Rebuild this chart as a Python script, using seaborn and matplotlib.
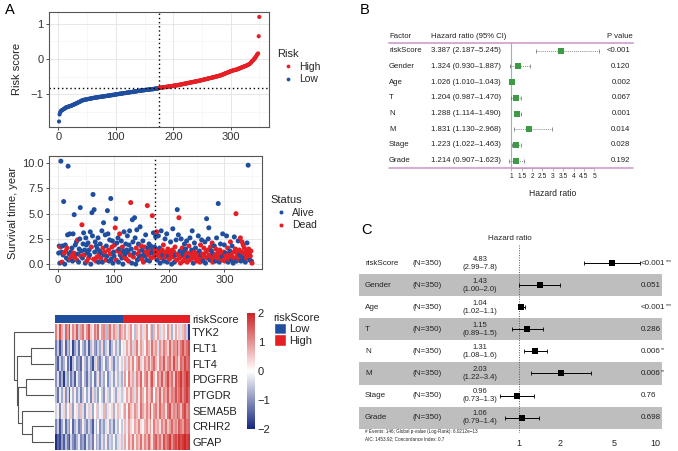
import matplotlib.pyplot as plt
import numpy as np
import pandas as pd
import seaborn as sns
from matplotlib.colors import LinearSegmentedColormap, ListedColormap
from matplotlib.patches import Patch
from matplotlib.ticker import FormatStrFormatter, MultipleLocator
from matplotlib.transforms import blended_transform_factory

# ---------------- panel A: risk score curve ----------------
risk_score = [
    -1.78, -1.58, -1.52, -1.49, -1.47,
    -1.46, -1.45, -1.44, -1.43, -1.42, -1.41, -1.39,
    -1.38, -1.38, -1.37, -1.37, -1.36, -1.35, -1.35, -1.34, -1.34, -1.33, -1.33, -1.32,
    -1.31, -1.30, -1.30, -1.29, -1.28, -1.27, -1.27, -1.26, -1.25, -1.24, -1.23, -1.23,
    -1.22, -1.21, -1.20, -1.19, -1.18,
    -1.18, -1.17, -1.17, -1.16, -1.16, -1.16, -1.15, -1.15, -1.15, -1.14, -1.14, -1.14,
    -1.13, -1.13, -1.13, -1.12, -1.12, -1.12, -1.11, -1.11, -1.11, -1.10, -1.10,
    -1.10, -1.10, -1.09, -1.09, -1.09, -1.09, -1.08, -1.08, -1.08, -1.08, -1.07, -1.07,
    -1.07, -1.07, -1.06, -1.06, -1.06, -1.06, -1.05, -1.05, -1.05, -1.05, -1.04, -1.04,
    -1.04, -1.04, -1.03, -1.03, -1.03, -1.03, -1.02, -1.02, -1.02, -1.02, -1.01, -1.01,
    -1.01, -1.00, -1.00, -1.00, -1.00, -0.99, -0.99, -0.99, -0.99, -0.98, -0.98, -0.98,
    -0.98, -0.97, -0.97, -0.97, -0.97, -0.96, -0.96, -0.96, -0.96, -0.95, -0.95, -0.95,
    -0.95, -0.94, -0.94, -0.94, -0.94, -0.93, -0.93, -0.93, -0.93, -0.92, -0.92, -0.92,
    -0.92, -0.91,
    -0.91, -0.91, -0.91, -0.90, -0.90, -0.90, -0.90, -0.89, -0.89, -0.89, -0.89, -0.89,
    -0.88, -0.88, -0.88, -0.88, -0.88, -0.87, -0.87, -0.87, -0.87, -0.87, -0.86, -0.86,
    -0.86, -0.86, -0.86, -0.85, -0.85, -0.85, -0.85, -0.84, -0.84, -0.84, -0.84, -0.83,
    -0.83,
    -0.82, -0.82, -0.82, -0.82, -0.81, -0.81, -0.81, -0.81, -0.80, -0.80, -0.80, -0.80,
    -0.79, -0.79, -0.79, -0.79, -0.78, -0.78, -0.78, -0.78, -0.77, -0.77, -0.77, -0.77,
    -0.76, -0.76, -0.76, -0.76, -0.75, -0.75, -0.75, -0.75,
    -0.74, -0.74, -0.74, -0.73, -0.73, -0.73, -0.72, -0.72, -0.72, -0.71, -0.71, -0.71,
    -0.70, -0.70, -0.70, -0.69, -0.69, -0.69, -0.68, -0.68, -0.68, -0.67, -0.67, -0.67,
    -0.66, -0.66, -0.66, -0.65, -0.65, -0.65, -0.64, -0.64, -0.64, -0.63, -0.63, -0.63,
    -0.62, -0.62, -0.62, -0.61, -0.61,
    -0.60, -0.60, -0.60, -0.59, -0.59, -0.58, -0.58, -0.58, -0.57, -0.57, -0.56, -0.56,
    -0.56, -0.55, -0.55, -0.54, -0.54, -0.54, -0.53, -0.53, -0.52, -0.52, -0.52, -0.51,
    -0.51, -0.50, -0.50, -0.50, -0.49, -0.49, -0.48, -0.48, -0.47, -0.47,
    -0.46, -0.46, -0.45, -0.44, -0.44, -0.43, -0.42, -0.42, -0.41, -0.40, -0.40, -0.39,
    -0.38, -0.38, -0.37, -0.36, -0.36, -0.35, -0.34, -0.34, -0.33, -0.33, -0.32, -0.32,
    -0.31, -0.31, -0.31, -0.30, -0.30,
    -0.29, -0.28, -0.28, -0.27, -0.26, -0.26, -0.25, -0.24, -0.24, -0.23, -0.22, -0.22,
    -0.21, -0.20, -0.20, -0.19, -0.18, -0.18, -0.17, -0.16, -0.15, -0.14, -0.13,
    -0.11, -0.09, -0.07, -0.05, -0.04, -0.02, 0.00, 0.02, 0.04, 0.06, 0.09, 0.12, 0.14, 0.16,
    0.65, 1.20,
]

# ---------------- panel A: survival scatter ----------------
surv_time = [
    1.1, 1.8, 0.1, 1.7, 10.2, 1.2, 0.2, 1.8, 0.9, 6.2, 1.1, 0.0, 1.9, 1.3, 0.6, 1.6, 2.9, 9.7, 0.4, 1.0, 3.0, 0.5, 1.2, 0.8, 1.6,
    0.3, 3.0, 1.1, 4.9, 0.7, 1.9, 1.0, 2.2, 0.4, 2.4, 1.0, 0.2, 1.5, 2.5, 5.6, 0.8, 1.3, 3.9, 0.6, 2.0, 3.1, 0.9, 1.4, 0.1, 2.6,
    1.9, 0.3, 1.1, 2.1, 0.6, 1.4, 0.9, 3.2, 0.0, 1.7, 5.1, 2.8, 6.9, 0.5, 5.4, 1.2, 2.2, 0.3, 1.8, 0.7, 1.5, 2.6, 0.2, 1.0, 1.3,
    2.0, 0.6, 1.1, 3.3, 0.2, 1.6, 4.1, 0.9, 1.2, 2.9, 0.4, 1.8, 0.8, 5.3, 3.0, 1.4, 0.3, 2.4, 1.0, 6.5, 0.5, 1.7, 2.3, 0.1, 1.2,
    0.8, 1.9, 3.6, 4.5, 0.4, 2.1, 1.3, 2.6, 0.2, 1.5, 3.0, 0.9, 1.1, 2.3, 0.6, 1.7, 0.0, 1.3, 3.2, 0.7, 1.0, 2.0, 0.5, 1.4, 2.8,
    1.2, 0.3, 1.9, 3.3, 0.9, 6.1, 1.5, 0.1, 4.4, 2.2, 0.7, 1.1, 4.6, 2.6, 0.0, 1.6, 3.4, 0.4, 1.0, 2.0, 0.6, 1.3, 3.7, 0.8, 1.8,
    0.5, 1.4, 2.3, 0.2, 1.0, 1.7, 0.8, 2.9, 1.2, 0.4, 5.8, 1.6, 0.9, 2.0, 0.3, 1.3, 1.8, 0.6, 1.1, 4.8, 1.5, 3.1, 0.7, 1.7, 1.4,
    2.7, 1.0, 3.2, 0.4, 1.3, 2.8, 0.8, 1.6, 0.1, 1.1, 3.3, 0.6, 1.4, 0.9, 1.9, 0.3, 1.2, 2.5, 0.7, 1.0, 3.0, 0.2, 1.5, 0.8, 1.3,
    0.5, 1.1, 2.2, 0.9, 0.0, 1.4, 3.5, 0.7, 1.2, 0.2, 1.7, 0.9, 2.4, 0.4, 5.4, 1.0, 2.9, 4.6, 0.6, 1.3, 0.1, 2.5, 0.8, 1.6, 1.0,
    0.3, 1.2, 2.0, 0.6, 1.5, 0.9, 2.3, 0.2, 1.1, 0.7, 1.8, 0.4, 2.6, 1.0, 0.5, 1.4, 3.3, 0.8, 0.1, 1.2, 2.1, 0.6, 1.6, 0.9, 0.3,
    1.1, 0.4, 2.8, 0.7, 1.3, 0.2, 1.9, 0.9, 2.4, 0.5, 1.0, 0.3, 1.6, 0.8, 2.2, 0.1, 1.2, 4.5, 0.6, 1.4, 2.5, 3.6, 0.9, 0.4, 1.7,
    0.7, 1.3, 2.1, 0.2, 1.0, 0.5, 1.8, 0.9, 0.3, 1.5, 2.6, 0.6, 1.1, 6.0, 0.8, 0.2, 1.4, 2.0, 0.5, 1.0, 0.7, 3.0, 0.4, 1.2, 1.9,
    0.3, 1.1, 0.8, 2.8, 0.6, 1.6, 0.2, 1.0, 0.5, 1.3, 2.2, 0.9, 0.4, 1.8, 0.7, 0.1, 1.2, 2.7, 0.6, 1.5, 5.0, 0.3, 1.1, 0.8, 2.3,
    0.5, 1.4, 0.9, 2.6, 0.3, 1.2, 2.2, 0.7, 1.9, 0.4, 1.6, 1.0, 0.2, 1.3, 0.6, 2.1, 0.8, 9.8, 1.5, 1.1, 0.4, 0.8, 1.3, 0.3, 0.1,
]
surv_status = """
A A A D A A D A A A D A A D A D A A A A A D A D A
A A D A D A D A D D A A A A A D A D A A A D A A A
A D A A D A A A A D A A A D A A A D A D A A A D A
A D A A A D A A D A D A A A A D A A D A A D A A A
A D D A D A D A A A D A D A A D A A A D A A D A A
A D A A D D A A A A D A A A A D A A D A A D A A D
D A A D A D A A D A D A D A A D A D A D A A D A D
A D D A D A D A A D A D D A D A D A D D A A D A D
D D A D A D A D D A D A A D A D A D D A D A D D A
D A A D A D A D D A D D A D D A A D A D A D A D D
D D A D A D D A A D D A D D A A D A D D A A D A D
D A D D A D A D A D A D D A D A D A D D A A D D A
D A D A D D A D D A D D A A D A D A D D D A D D A
D D A D A D D A D A D D A D D A D A D D A D D A D
""".split()

# ---------------- panel A: expression heatmap ----------------
genes = ["TYK2", "FLT1", "FLT4", "PDGFRB", "PTGDR", "SEMA5B", "CRHR2", "GFAP"]
hm_groups = ["Low"] * 35 + ["High"] * 35
tyk2 = [1.2, 0.4, 1.6, 0.8, -0.3, 1.4, 0.9, 1.7, 0.2, 1.1, 0.6, 1.5, -0.5, 0.9, 1.3, 0.3, 1.0, 1.6,
        0.5, -0.2, 1.2, 0.7, 1.4, 0.1, 0.9, 1.1, -0.6, 0.8, 1.3, 0.4, 1.0, 0.6, -0.4, 1.2, 0.7,
        0.3, 0.9, -0.2, 0.5, 1.0, 0.1, -0.6, 0.6, 0.2, 0.8, -0.3, 0.4, 1.1, 0.0, 0.5, -0.8, 0.7,
        0.2, 0.9, -0.4, 0.3, 0.6, -0.1, 1.0, 0.4, -0.7, 0.2, 0.8, 0.0, 0.5, -0.3, 0.6, 0.9, -0.5, -1.9]
flt1 = [-1.2, -0.5, -1.6, -0.8, 0.2, -1.4, -0.6, -1.0, -0.2, -1.7, -0.9, -0.4, -1.3, 0.1, -0.7, -1.1,
        -0.3, -1.5, -0.6, 0.3, -0.9, -1.2, -0.4, -0.8, 0.4, -1.0, -0.5, -0.2, -1.3, -0.6, 0.2, -0.7,
        -0.3, -0.9, 0.1,
        0.4, -0.2, 0.8, 0.3, 1.0, -0.4, 0.6, 1.2, 0.2, 0.9, 0.5, -0.1, 1.1, 0.7, 0.3, 1.3, 0.6, 0.9,
        -0.3, 1.0, 0.5, 1.2, 0.8, 0.4, 1.4, 0.6, 1.1, 0.9, 1.5, 0.7, 1.2, 1.6, 1.0, 1.3, 1.7]
flt4 = [-0.9, -1.5, -0.4, -1.1, -0.7, 0.1, -1.3, -0.5, -1.8, -0.6, -0.2, -1.0, -0.8, -1.4, 0.2, -0.6,
        -1.1, -0.3, -0.9, -1.6, -0.4, 0.3, -0.8, -1.2, -0.5, -0.1, -1.0, -0.7, 0.2, -0.5, -1.1, -0.3,
        -0.6, 0.1, -0.4,
        0.2, 0.7, -0.3, 0.9, 0.4, 1.1, 0.1, 0.8, 1.3, 0.5, -0.2, 1.0, 0.6, 1.2, 0.3, 0.9, 1.4, 0.7,
        0.2, 1.1, 0.8, 1.5, 0.5, 1.0, 1.3, 0.6, 1.6, 0.9, 1.2, 0.4, 1.4, 1.1, 1.7, 1.3, 1.5]
pdgfrb = [-1.0, -0.3, -1.4, -0.7, -1.8, -0.5, -0.9, 0.2, -1.2, -0.6, -1.5, -0.2, -0.8, -1.1, 0.1, -0.7,
          -1.3, -0.4, -0.9, -0.1, -1.2, -0.6, 0.3, -1.0, -0.4, -0.8, 0.0, -1.1, -0.5, -0.2, -0.9, 0.2,
          -0.6, -0.3, -0.7,
          0.3, 0.9, 0.0, 1.2, 0.5, 0.8, -0.3, 1.1, 0.6, 1.4, 0.2, 0.9, 1.3, 0.4, 1.0, 1.6, 0.7, 0.1,
          1.2, 0.8, 1.5, 0.6, 1.1, 1.7, 0.9, 1.3, 0.5, 1.6, 1.0, 1.4, 1.8, 1.2, 1.5, 1.9, 1.6]
ptgdr = [-0.6, -1.3, -0.2, -0.8, 0.3, -1.0, -0.4, -1.5, -0.1, -0.7, 0.2, -0.9, -0.3, -1.2, -0.5, 0.1,
         -0.8, -0.2, -1.1, 0.4, -0.6, -0.3, -0.9, 0.0, -0.5, -1.0, 0.2, -0.4, -0.7, 0.1, -0.3, -0.8,
         0.3, -0.2, -0.5,
         0.4, -0.1, 0.8, 0.3, 1.0, 0.6, -0.3, 0.9, 0.2, 1.2, 0.7, 0.1, 1.1, 0.5, 0.8, 1.3, 0.0, 0.9,
         0.6, 1.4, 0.4, 1.1, 0.8, 1.5, 0.7, 1.2, 1.0, 1.6, 0.9, 1.3, 1.7, 1.1, 1.5, 1.8, 1.4]
sema5b = [-0.4, 0.2, -1.1, -0.2, 0.4, -0.7, 0.1, -0.5, 0.5, -0.9, -0.1, 0.3, -0.6, 0.6, -0.3, -1.0,
          0.2, -0.4, 0.4, -0.8, 0.0, 0.5, -0.5, 0.1, -0.2, 0.7, -0.6, 0.3, -0.1, 0.4, -0.7, 0.2,
          0.6, -0.3, 0.1,
          0.5, 0.9, 0.1, 1.2, 0.6, 0.3, 1.0, 0.7, -0.2, 1.3, 0.8, 0.4, 1.1, 0.6, 1.5, 0.2, 0.9, 1.2,
          0.5, 1.4, 0.8, 1.0, 0.3, 1.3, 1.6, 0.7, 1.1, 0.9, 1.5, 1.2, 0.6, 1.4, 1.7, 1.0, 1.3]
crhr2 = [-1.1, -0.5, -1.6, -0.8, -0.2, -1.3, -0.6, -1.0, 0.1, -1.4, -0.7, -0.3, -1.2, -0.9, 0.2, -0.6,
         -1.1, -0.4, -0.8, -1.5, -0.2, -0.7, 0.1, -1.0, -0.5, -0.9, -0.3, 0.2, -0.8, -0.4, -1.1, -0.2,
         -0.6, 0.0, -0.5,
         0.2, 0.6, -0.2, 0.9, 0.4, 0.1, 0.8, 0.5, 1.1, 0.3, -0.1, 0.7, 1.0, 0.4, 0.9, 0.2, 1.2, 0.6,
         0.8, 0.3, 1.1, 0.7, 1.3, 0.5, 0.9, 1.4, 0.8, 1.1, 0.6, 1.5, 1.2, 0.9, 1.6, 1.3, 1.4]
gfap = [-1.9, -1.4, -1.7, -0.9, -1.5, -0.6, -1.2, -1.6, -0.4, -1.0, -1.3, -0.7, -0.2, -1.1, -0.8, -1.4,
        -0.3, -0.9, -0.6, -1.2, 0.1, -0.8, -0.5, -1.0, -0.3, -0.7, 0.2, -0.9, -0.4, -0.6, -0.1, -0.8,
        -0.3, 0.3, -0.5,
        0.3, 0.8, 0.1, 1.0, 0.5, 1.2, 0.2, 0.9, 0.6, 1.3, 0.4, 1.1, 0.7, 1.4, 0.8, 0.3, 1.2, 1.5,
        0.9, 1.3, 0.6, 1.6, 1.1, 1.4, 1.8, 1.0, 1.5, 1.7, 1.3, 1.9, 1.6, 1.8, 2.0, 1.7, 1.9]
# row clustering: (child a, child b, height); leaves 0-7 follow `genes`
gene_merges = [(6, 7, 0.55), (1, 2, 0.58), (3, 4, 0.70), (5, 8, 0.80),
               (10, 11, 0.91), (9, 12, 0.92), (0, 13, 1.00)]

# ---------------- panel B: univariate table ----------------
factors = ["riskScore", "Gender", "Age", "T", "N", "M", "Stage", "Grade"]
b_hr = [3.387, 1.324, 1.026, 1.204, 1.288, 1.831, 1.223, 1.214]
b_low = [2.187, 0.930, 1.010, 0.987, 1.114, 1.130, 1.022, 0.907]
b_high = [5.245, 1.887, 1.043, 1.470, 1.490, 2.968, 1.463, 1.623]
b_pval = ["<0.001", "0.120", "0.002", "0.067", "0.001", "0.014", "0.028", "0.192"]
b_ticks = [1, 1.5, 2, 2.5, 3, 3.5, 4, 4.5, 5]

# ---------------- panel C: multivariate forest ----------------
c_n = [350, 350, 350, 350, 350, 350, 350, 350]
c_hr = [4.83, 1.43, 1.04, 1.15, 1.31, 2.03, 0.96, 1.06]
c_low = [2.99, 1.00, 1.02, 0.89, 1.08, 1.22, 0.73, 0.79]
c_high = [7.8, 2.0, 1.1, 1.5, 1.6, 3.4, 1.3, 1.4]
c_pval = ["<0.001", "0.051", "<0.001", "0.286", "0.006", "0.006", "0.76", "0.698"]
c_stars = ["***", "", "***", "", "**", "**", "", ""]
c_ticks = [1, 2, 5, 10]
c_note = ["# Events: 146; Global p-value (Log-Rank): 6.0212e\u221213",
          "AIC: 1453.92; Concordance Index: 0.7"]

BLUE = "#1F4E9E"
RED = "#E41F26"
TXT = "#222222"
W, H = 678, 451

sns.set_theme(style="whitegrid")
plt.rcParams["font.family"] = ["Liberation Sans", "DejaVu Sans"]
plt.rcParams["axes.unicode_minus"] = True


def rect(x0, y0, x1, y1):
    return [x0 / W, 1 - y1 / H, (x1 - x0) / W, (y1 - y0) / H]


def gg_axes(ax):
    ax.set_facecolor("white")
    for sp in ax.spines.values():
        sp.set_visible(True)
        sp.set_color("#555555")
        sp.set_linewidth(0.8)
    ax.grid(True, which="major", color="#E3E3E3", lw=0.6)
    ax.grid(True, which="minor", color="#F1F1F1", lw=0.4)
    ax.tick_params(which="major", length=2.5, width=0.6, color="#333333",
                   labelsize=8, labelcolor="#333333", pad=1.5, bottom=True, left=True)
    ax.tick_params(which="minor", length=0)
    ax.set_axisbelow(True)


fig = plt.figure(figsize=(W / 100, H / 100), dpi=100)

# ---- A1: risk score ----
n = len(risk_score)
cut = np.median(risk_score)
risk_df = pd.DataFrame({"idx": np.arange(1, n + 1), "score": risk_score})
risk_df["Risk"] = np.where(risk_df["score"] > cut, "High", "Low")

ax1 = fig.add_axes(rect(49, 11.7, 269.3, 126.7))
sns.scatterplot(data=risk_df, x="idx", y="score", hue="Risk", hue_order=["High", "Low"],
                palette={"High": RED, "Low": BLUE}, s=9, linewidth=0, ax=ax1)
ax1.axvline(n / 2, color="black", ls=(0, (1, 2)), lw=1)
ax1.axhline(cut, color="black", ls=(0, (1, 2)), lw=1)
pad = 0.05 * (n - 1)
ax1.set_xlim(1 - pad, n + pad)
span = max(risk_score) - min(risk_score)
ax1.set_ylim(min(risk_score) - 0.05 * span, max(risk_score) + 0.05 * span)
ax1.xaxis.set_major_locator(MultipleLocator(100))
ax1.xaxis.set_minor_locator(MultipleLocator(50))
ax1.yaxis.set_major_locator(MultipleLocator(1))
ax1.yaxis.set_minor_locator(MultipleLocator(0.5))
gg_axes(ax1)
ax1.set_xlabel("")
ax1.set_ylabel("Risk score", fontsize=8, color=TXT, labelpad=6)
sns.move_legend(ax1, "upper left", bbox_to_anchor=(1.012, 0.72), frameon=False,
                title="Risk", fontsize=7.5, title_fontsize=8, handletextpad=0.1,
                labelspacing=0.25, borderpad=0, alignment="left", markerscale=0.9)

# ---- A2: survival ----
surv_df = pd.DataFrame({"idx": np.arange(1, len(surv_time) + 1), "time": surv_time,
                        "Status": ["Alive" if s == "A" else "Dead" for s in surv_status]})
ax2 = fig.add_axes(rect(49, 156, 261.7, 269.3))
sns.scatterplot(data=surv_df, x="idx", y="time", hue="Status", hue_order=["Alive", "Dead"],
                palette={"Alive": BLUE, "Dead": RED}, s=13, linewidth=0, ax=ax2)
ax2.axvline(n / 2, color="black", ls=(0, (1, 2)), lw=1)
ax2.set_xlim(1 - pad, n + pad)
tspan = max(surv_time) - min(surv_time)
ax2.set_ylim(min(surv_time) - 0.05 * tspan, max(surv_time) + 0.05 * tspan)
ax2.xaxis.set_major_locator(MultipleLocator(100))
ax2.xaxis.set_minor_locator(MultipleLocator(50))
ax2.yaxis.set_major_locator(MultipleLocator(2.5))
ax2.yaxis.set_minor_locator(MultipleLocator(1.25))
ax2.yaxis.set_major_formatter(FormatStrFormatter("%.1f"))
gg_axes(ax2)
ax2.set_xlabel("")
ax2.set_ylabel("Survival time, year", fontsize=8, color=TXT, labelpad=3)
sns.move_legend(ax2, "upper left", bbox_to_anchor=(1.015, 0.7), frameon=False,
                title="Status", fontsize=7.5, title_fontsize=8, handletextpad=0.1,
                labelspacing=0.25, borderpad=0, alignment="left", markerscale=0.8)

# ---- A3: heatmap ----
expr_df = pd.DataFrame([tyk2, flt1, flt4, pdgfrb, ptgdr, sema5b, crhr2, gfap], index=genes)
heat_cmap = LinearSegmentedColormap.from_list("pheat", ["#15277F", "white", "#CD2626"])

ax_ann = fig.add_axes(rect(55, 315, 190, 322.6))
grp = np.array([[0 if g == "Low" else 1 for g in hm_groups]])
sns.heatmap(grp, cmap=ListedColormap([BLUE, RED]), cbar=False, ax=ax_ann,
            xticklabels=False, yticklabels=["riskScore"])
ax_ann.yaxis.tick_right()
ax_ann.tick_params(axis="y", length=0, pad=1.5, labelsize=8, labelrotation=0, labelcolor=TXT)

ax_hm = fig.add_axes(rect(55, 324.3, 190, 450))
ax_cb = fig.add_axes(rect(247.3, 313.3, 255, 429))
sns.heatmap(expr_df, cmap=heat_cmap, vmin=-2, vmax=2, ax=ax_hm, cbar_ax=ax_cb,
            xticklabels=False, yticklabels=genes, cbar_kws={"ticks": [-2, -1, 0, 1, 2]})
ax_hm.yaxis.tick_right()
ax_hm.tick_params(axis="y", length=0, pad=1.5, labelsize=8, labelrotation=0, labelcolor=TXT)
ax_cb.tick_params(length=0, labelsize=8, pad=2, labelcolor=TXT)
ax_hm.collections[0].colorbar.outline.set_visible(False)

fig.legend(handles=[Patch(facecolor=BLUE, label="Low"), Patch(facecolor=RED, label="High")],
           title="riskScore", loc="upper left", bbox_to_anchor=(268 / W, 1 - 307 / H),
           frameon=False, fontsize=8, title_fontsize=8, handlelength=1.1, handleheight=1.25,
           labelspacing=0, handletextpad=0.3, borderpad=0, alignment="left")

# dendrogram from merge table
ax_dn = fig.add_axes(rect(12, 324.3, 54, 450))
node_y = {i: i + 0.5 for i in range(len(genes))}
node_h = {i: 0.0 for i in range(len(genes))}
for k, (a, b, h) in enumerate(gene_merges):
    nid = len(genes) + k
    ax_dn.plot([node_h[a], h, h, node_h[b]], [node_y[a], node_y[a], node_y[b], node_y[b]],
               color="#555555", lw=0.8)
    node_y[nid] = (node_y[a] + node_y[b]) / 2
    node_h[nid] = h
ax_dn.set_xlim(1.05, 0)
ax_dn.set_ylim(len(genes), 0)
ax_dn.axis("off")

# ---- B: univariate forest table ----
rows = np.arange(len(factors))
FS_B = 5.6
ax_b = fig.add_axes(rect(389, 42.7, 633, 167.7))
ax_b.set_xlim(-4.894, 6.865)
ax_b.set_ylim(7.45, -0.51)
ax_b.grid(False)
for side in ["left", "right"]:
    ax_b.spines[side].set_visible(False)
ax_b.spines["top"].set_color("#C994C9")
ax_b.spines["top"].set_linewidth(1.1)
ax_b.spines["bottom"].set_bounds(1, 5)
ax_b.spines["bottom"].set_color("#999999")
ax_b.spines["bottom"].set_linewidth(0.5)
ax_b.axhline(7.45, color="#C994C9", lw=1.1, zorder=4, clip_on=False)
ax_b.axvline(1, color="#66C8D8", lw=0.8)
eb = ax_b.errorbar(b_hr, rows, xerr=[np.subtract(b_hr, b_low), np.subtract(b_high, b_hr)],
                   fmt="none", ecolor="#666666", elinewidth=0.5, capsize=1.3, capthick=0.5)
eb[2][0].set_linestyle((0, (1.5, 1.5)))
sns.scatterplot(x=b_hr, y=rows, marker="s", color="#3E9B45", s=14, linewidth=0, ax=ax_b, zorder=3)
ax_b.set_xticks(b_ticks)
ax_b.xaxis.set_major_formatter(FormatStrFormatter("%g"))
ax_b.set_yticks([])
ax_b.tick_params(axis="x", length=2, width=0.5, color="#999999", labelsize=4.8,
                 labelcolor=TXT, pad=1.5, bottom=True)
ax_b.set_xlabel("Hazard ratio", fontsize=6.2, color=TXT)
ax_b.xaxis.set_label_coords(0.672, -0.17)
tb = blended_transform_factory(ax_b.transAxes, ax_b.transData)
ax_b.text(0.0, -0.9, "Factor", transform=tb, fontsize=FS_B, color=TXT, va="center")
ax_b.text(0.171, -0.9, "Hazard ratio (95% CI)", transform=tb, fontsize=FS_B, color=TXT, va="center")
ax_b.text(0.998, -0.9, "P value", transform=tb, fontsize=FS_B, color=TXT, va="center", ha="right")
for i, f in enumerate(factors):
    ax_b.text(0.0, i, f, transform=tb, fontsize=FS_B, color=TXT, va="center")
    ax_b.text(0.171, i, f"{b_hr[i]:.3f} ({b_low[i]:.3f}\u2013{b_high[i]:.3f})", transform=tb,
              fontsize=FS_B, color=TXT, va="center")
    ax_b.text(0.99, i, b_pval[i], transform=tb, fontsize=FS_B, color=TXT, va="center", ha="right")

# ---- C: multivariate forest ----
ax_c = fig.add_axes(rect(359, 245, 662, 433))
ax_c.set_xscale("log")
ax_c.set_xlim(0.0667, 11.25)
ax_c.set_ylim(7.70, -0.83)
ax_c.grid(False)
for sp in ax_c.spines.values():
    sp.set_visible(False)
for i in rows[1::2]:
    ax_c.axhspan(i - 0.5, i + 0.5, color="#BEBEBE", lw=0, zorder=0)
ax_c.axvline(1, color="#555555", ls=(0, (1, 1.5)), lw=0.7)
ax_c.errorbar(c_hr, rows, xerr=[np.subtract(c_hr, c_low), np.subtract(c_high, c_hr)],
              fmt="none", ecolor="black", elinewidth=0.7, capsize=1.3, capthick=0.6)
sns.scatterplot(x=c_hr, y=rows, marker="s", color="black", s=20, linewidth=0, ax=ax_c, zorder=3)
ax_c.set_xticks(c_ticks)
ax_c.set_xticklabels([str(t) for t in c_ticks])
ax_c.minorticks_off()
ax_c.set_yticks([])
ax_c.tick_params(axis="x", length=0, labelsize=6.5, labelcolor=TXT, pad=4)
tc = blended_transform_factory(ax_c.transAxes, ax_c.transData)
ax_c.text(0.498, -1.14, "Hazard ratio", transform=tc, fontsize=5.8, color=TXT, ha="center", va="center")
for i, f in enumerate(factors):
    ax_c.text(0.02, i, f, transform=tc, fontsize=5.8, color=TXT, va="center")
    ax_c.text(0.177, i, f"(N={c_n[i]})", transform=tc, fontsize=5.8, color=TXT, va="center")
    ax_c.text(0.40, i - 0.17, f"{c_hr[i]:.2f}", transform=tc, fontsize=5.5, color=TXT,
              ha="center", va="center")
    ax_c.text(0.40, i + 0.2, f"({c_low[i]:.2f}\u2013{c_high[i]:.1f})", transform=tc,
              fontsize=5.5, color=TXT, ha="center", va="center")
    pt = ax_c.text(0.931, i, c_pval[i], transform=tc, fontsize=5.8, color=TXT, va="center")
    if c_stars[i]:
        ax_c.annotate(c_stars[i], xy=(1.0, 0.75), xycoords=pt, fontsize=3.8, color=TXT,
                      va="center", ha="left")
ax_c.text(0.02, 7.61, c_note[0], transform=tc, fontsize=3.3, color=TXT, va="center")
ax_c.text(0.02, 7.95, c_note[1], transform=tc, fontsize=3.3, color=TXT, va="center")

# panel letters
for lab, x, y in [("A", 5, 10), ("B", 360, 9.5), ("C", 361.5, 230)]:
    fig.text(x / W, 1 - y / H, lab, fontsize=10.5, color="black", ha="left", va="center")

fig.savefig("out.png", dpi=100)
